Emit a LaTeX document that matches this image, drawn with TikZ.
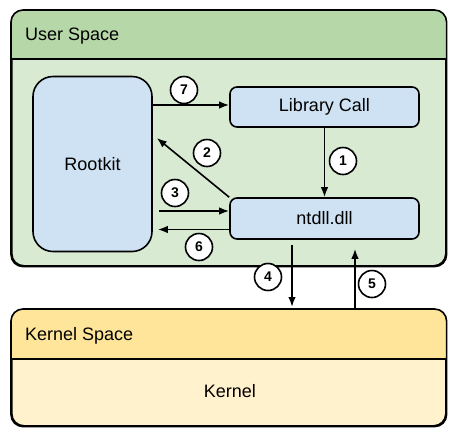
\documentclass[tikz,border=0pt]{standalone}
\usepackage{fontspec}
\setmainfont{Liberation Sans}
\usetikzlibrary{positioning, calc, arrows.meta}

\definecolor{userhead}{HTML}{B6D7A8}
\definecolor{userbody}{HTML}{D9EAD3}
\definecolor{kernhead}{HTML}{FFE599}
\definecolor{kernbody}{HTML}{FFF2CC}
\definecolor{boxblue}{HTML}{CFE2F3}

\begin{document}
\begin{tikzpicture}[x=1pt, y=-1pt, line width=1.6pt, >={Latex[length=10pt,width=7.5pt]}]
        % Define block styles
        \tikzstyle{region} = [rectangle, draw, rounded corners=12pt, inner sep=0pt]
        \tikzstyle{block} = [rectangle, draw, fill=boxblue, font=\fontsize{18}{22}\selectfont, text centered, inner sep=0pt]
        \tikzstyle{num} = [circle, draw, fill=white, minimum size=27pt, inner sep=0pt, font=\fontsize{14}{16}\selectfont\bfseries]
        \tikzstyle{title} = [anchor=west, font=\fontsize{18}{22}\selectfont]

        \useasboundingbox (0,0) rectangle (455,437);

        % Place the two spaces
        \node [region, fill=userbody, minimum width=434pt, minimum height=255pt, anchor=north west] (user) at (11,10) {};
        \node [region, fill=kernbody, minimum width=434pt, minimum height=116pt, anchor=north west] (kernel) at (11,309) {};

        % Header bands
        \begin{scope}
            \clip [rounded corners=12pt] (user.north west) rectangle (user.south east);
            \fill [userhead] (user.north west) rectangle ($(user.north east)+(0,49)$);
        \end{scope}
        \begin{scope}
            \clip [rounded corners=12pt] (kernel.north west) rectangle (kernel.south east);
            \fill [kernhead] (kernel.north west) rectangle ($(kernel.north east)+(0,50)$);
        \end{scope}
        \draw ($(user.north west)+(0,49)$) -- ($(user.north east)+(0,49)$);
        \draw ($(kernel.north west)+(0,50)$) -- ($(kernel.north east)+(0,50)$);
        \draw [rounded corners=12pt] (user.north west) rectangle (user.south east);
        \draw [rounded corners=12pt] (kernel.north west) rectangle (kernel.south east);

        % Add titles
        \node [title] (usertitle) at ($(user.north west)+(10,26)$) {User Space};
        \node [title] (kerntitle) at ($(kernel.north west)+(10,27)$) {Kernel Space};
        \node [font=\fontsize{18}{22}\selectfont] (kerntext) at ($(kernel.south)+(1,-36)$) {Kernel};

        % Place nodes
        \node [block, rounded corners=20pt, minimum width=119pt, minimum height=175pt] (rootkit) at (92.5,164) {Rootkit};
        \node [block, rounded corners=7pt, minimum width=189pt, minimum height=40pt] (library) at (324.5,107) {Library Call};
        \node [block, rounded corners=7pt, minimum width=189pt, minimum height=41pt] (ntdll) at (324.5,218.5) {ntdll.dll};

        % Free arrow ends
        \coordinate (r2) at ($(rootkit.east)+(4,-26)$);
        \coordinate (r3) at ($(rootkit.east |- ntdll.west)+(6,-7.5)$);
        \coordinate (r6) at ($(rootkit.east |- ntdll.west)+(5,11)$);
        \coordinate (d4) at ($(ntdll.south)+(-32.5,5)$);
        \coordinate (u5) at ($(ntdll.south)+(30.5,9)$);

        % Draw connections as arrows
        \draw [->] (rootkit.east |- 0,105) -- (library.west |- 0,105);
        \draw [->] (library) -- (ntdll);
        \draw [->] (ntdll.north west) -- (r2);
        \draw [->] (r3) -- (ntdll.west |- r3);
        \draw [->] (ntdll.west |- r6) -- (r6);
        \draw [->] (d4) -- ($(d4 |- kernel.north)+(0,-2)$);
        \draw [->] ($(u5 |- kernel.north)+(0,-1)$) -- (u5);

        % Add step numbers
        \node [num] (n7) at (184,90) {7};
        \node [num] (n1) at (343,161) {1};
        \node [num] (n2) at (207,153) {2};
        \node [num] (n3) at (175,193) {3};
        \node [num] (n6) at (199,247) {6};
        \node [num] (n4) at (268,277) {4};
        \node [num] (n5) at (372,284) {5};
    \end{tikzpicture}
\end{document}
